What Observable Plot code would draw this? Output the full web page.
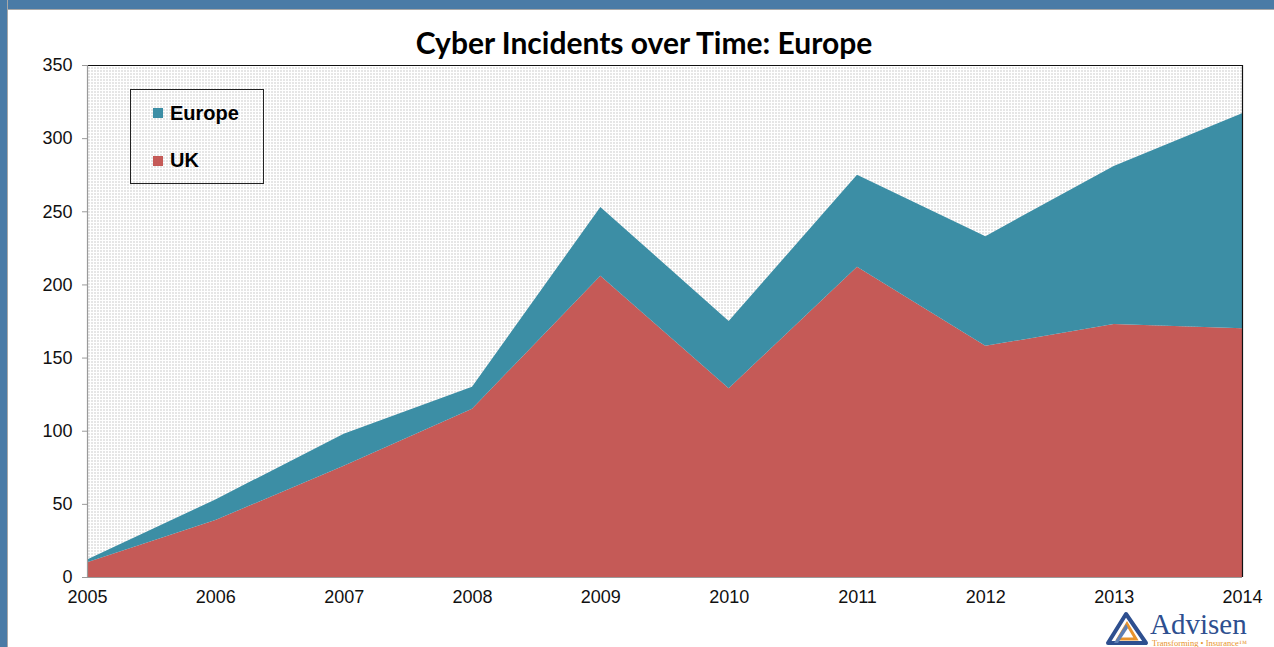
<!DOCTYPE html>
<html>
<head>
<meta charset="utf-8">
<script src="https://cdn.jsdelivr.net/npm/d3@7"></script>
<script src="https://cdn.jsdelivr.net/npm/@observablehq/plot@0.6"></script>
<style>
  html, body { margin: 0; padding: 0; background: #fff; overflow: hidden; }
  #page { position: relative; width: 1274px; height: 647px; background: #fff; font-family: "Liberation Sans", Arial, sans-serif; }
  #topbar { position: absolute; left: 0; top: 0; width: 1274px; height: 9px; background: #4A7BA6; border-bottom: 1px solid #A8A8A8; }
  #leftbar { position: absolute; left: 0; top: 0; width: 7px; height: 647px; background: #4A7BA6; border-right: 1px solid #A8A8A8; }
  #chart { position: absolute; left: 0; top: 0; }
  #title { position: absolute; left: 0; width: 1288px; top: 24px; text-align: center; font-family: Lato, "Open Sans", sans-serif; font-weight: 700; font-size: 30px; color: #000; line-height: 36px; }
  #legend { position: absolute; left: 130px; top: 89px; width: 134px; height: 95px; box-sizing: border-box; border: 1px solid #222; }
  .sw { position: absolute; width: 10px; height: 10px; }
  .lt { position: absolute; font-weight: 700; font-size: 20px; color: #000; line-height: 20px; }
  #logo { position: absolute; left: 1104px; top: 607px; }
</style>
</head>
<body>
<div id="page">
  <div id="chart"></div>
  <div id="topbar"></div>
  <div id="leftbar"></div>
  <div id="title">Cyber Incidents over Time: Europe</div>
  <div id="legend"></div>
  <div id="logo"></div>
</div>
<script>
// ---- data ----
const years = [2005, 2006, 2007, 2008, 2009, 2010, 2011, 2012, 2013, 2014];
const ukValues = [10, 39, 76, 115, 206, 129, 212, 158, 173, 170];
const europeValues = [2, 14, 22, 15, 47, 46, 63, 75, 108, 147]; // stacked on top of UK
const seriesNames = ["Europe", "UK"];
const seriesColors = ["#3C8EA5", "#C55A57"];
const yTicks = [0, 50, 100, 150, 200, 250, 300, 350];

const rows = [];
years.forEach((yr, i) => {
  rows.push({year: yr, series: "UK", value: ukValues[i]});
  rows.push({year: yr, series: "Europe", value: europeValues[i]});
});

const W = 1274, H = 647;
const chart = Plot.plot({
  width: W,
  height: H,
  marginLeft: 87,
  marginRight: 32,
  marginTop: 65,
  marginBottom: 70,
  style: {background: "transparent", fontFamily: "Liberation Sans, Arial, sans-serif", fontSize: "18px", color: "#111"},
  x: {domain: [2005, 2014], ticks: years, tickFormat: d => String(d)},
  y: {domain: [0, 350], ticks: yTicks},
  color: {domain: seriesNames, range: seriesColors},
  marks: [
    Plot.frame({fill: "url(#dots)", stroke: "none"}),
    Plot.areaY(rows, Plot.stackY({order: ["UK", "Europe"]}, {x: "year", y: "value", fill: "series", z: "series"})),
    Plot.ruleY([350], {stroke: "#111", strokeWidth: 1.2}),
    Plot.ruleX([2014], {stroke: "#111", strokeWidth: 1.2}),
    Plot.ruleX([2005], {stroke: "#9A9A9A", strokeWidth: 1.2}),
    Plot.ruleY([0], {stroke: "#9A9A9A", strokeWidth: 1.2}),
    Plot.axisY({ticks: yTicks, tickSize: 5, tickPadding: 10, stroke: "#9A9A9A", label: null, fill: "#111", fontSize: 18}),
    Plot.axisX({ticks: years, tickFormat: d => String(d), tickSize: 0, tickPadding: 13, label: null, fill: "#111", fontSize: 18})
  ]
});

// dotted plot-area pattern
const ns = "http://www.w3.org/2000/svg";
const defs = document.createElementNS(ns, "defs");
defs.innerHTML = `<pattern id="dots" width="3" height="3" patternUnits="userSpaceOnUse">
  <rect width="3" height="3" fill="#ffffff"/>
  <rect x="1" y="1" width="1" height="1" fill="#9c9c9c"/>
</pattern>`;
chart.insertBefore(defs, chart.firstChild);
document.getElementById("chart").appendChild(chart);

// legend (HTML overlay)
const legend = document.getElementById("legend");
const legendPos = [{top: 18, text: 13}, {top: 66, text: 60}];
seriesNames.forEach((name, i) => {
  const sw = document.createElement("div");
  sw.className = "sw";
  sw.style.left = "22px";
  sw.style.top = legendPos[i].top + "px";
  sw.style.background = seriesColors[i];
  legend.appendChild(sw);
  const t = document.createElement("div");
  t.className = "lt";
  t.style.left = "39px";
  t.style.top = legendPos[i].text + "px";
  t.textContent = name;
  legend.appendChild(t);
});

// logo
document.getElementById("logo").innerHTML = `
<svg width="166" height="40" xmlns="http://www.w3.org/2000/svg">
  <polygon points="4,36 22,7 42,36" fill="none" stroke="#2E4F8F" stroke-width="4" stroke-linejoin="round"/>
  <polygon points="14,32 23,17 32,32" fill="none" stroke="#E8932C" stroke-width="3"/>
  <polygon points="10,36 22,17 24,21 14,36" fill="#5E7FB4"/>
  <text x="46" y="27" font-family="Liberation Serif, DejaVu Serif, serif" font-size="29" fill="#2E4F8F">Advisen</text>
  <text x="48" y="39" font-family="Liberation Serif, DejaVu Serif, serif" font-size="8.5" fill="#E8932C">Transforming • Insurance™</text>
</svg>`;
</script>
</body>
</html>
